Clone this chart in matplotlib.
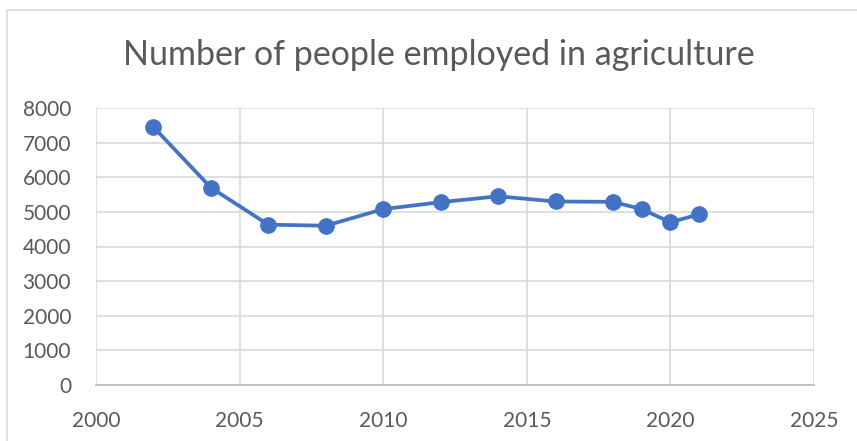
import matplotlib.pyplot as plt
from matplotlib.patches import Rectangle

# agriculture employment by year
years = [2002, 2004, 2006, 2008, 2010, 2012, 2014, 2016, 2018, 2019, 2020, 2021]
employed = [7450, 5700, 4630, 4600, 5080, 5280, 5450, 5300, 5290, 5080, 4700, 4930]

x_ticks = [2000, 2005, 2010, 2015, 2020, 2025]
y_ticks = [0, 1000, 2000, 3000, 4000, 5000, 6000, 7000, 8000]

plt.rcParams['font.family'] = ['Lato', 'DejaVu Sans']

W, H = 857, 441
fig = plt.figure(figsize=(W / 100, H / 100), dpi=100)

# chart area frame
fig.patches.append(Rectangle((7 / W, -0.05), 1.1, 1 - 9.5 / H + 0.05,
                             transform=fig.transFigure, fill=False,
                             edgecolor='#d9d9d9', linewidth=1.1))

ax = fig.add_axes([96 / W, 1 - 385 / H, (814 - 96) / W, (385 - 108) / H])

ax.plot(years, employed, color='#4472c4', linewidth=2.7,
        marker='o', markersize=11, zorder=3)

ax.set_xlim(2000, 2025)
ax.set_ylim(0, 8000)
ax.set_xticks(x_ticks)
ax.set_yticks(y_ticks)
ax.grid(True, color='#d9d9d9', linewidth=1.2)
ax.set_axisbelow(True)

for side in ['top', 'right', 'left']:
    ax.spines[side].set_visible(False)
ax.spines['bottom'].set_color('#bfbfbf')
ax.spines['bottom'].set_linewidth(1.3)

ax.tick_params(length=0, labelsize=15, labelcolor='#595959')
ax.tick_params(axis='y', pad=18)
ax.tick_params(axis='x', pad=19)

fig.text(0.5 * (118 + 760) / W, 1 - 55 / H, 'Number of people employed in agriculture',
         ha='center', va='center', fontsize=24.5, color='#595959')

fig.savefig('out.png', dpi=100)
